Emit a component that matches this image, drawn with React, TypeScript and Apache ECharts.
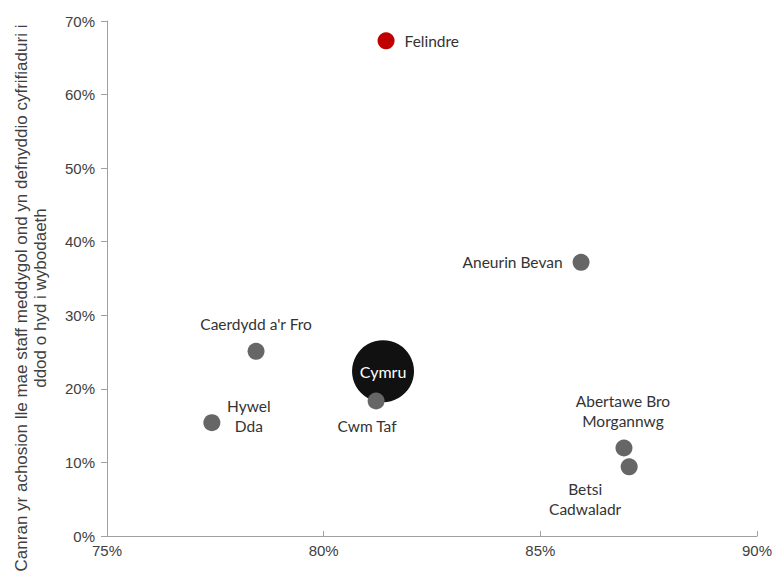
import React, { useEffect, useRef } from "react";
import * as echarts from "echarts";

const names = ["Felindre", "Aneurin Bevan", "Caerdydd a'r Fro", "Cymru", "Cwm Taf", "Hywel Dda", "Abertawe Bro Morgannwg", "Betsi Cadwaladr"];
const labelTexts = ["Felindre", "Aneurin Bevan", "Caerdydd a'r Fro", "Cymru", "Cwm Taf", "Hywel\nDda", "Abertawe Bro\nMorgannwg", "Betsi\nCadwaladr"];
const xValues = [81.44, 85.94, 78.44, 81.37, 81.21, 77.42, 86.93, 87.05];
const yValues = [67.3, 37.2, 25.1, 22.4, 18.35, 15.4, 11.96, 9.4];
const xTicks = [75, 80, 85, 90];
const yTicks = [0, 10, 20, 30, 40, 50, 60, 70];
const yTitle1 = "Canran yr achosion lle mae staff meddygol ond yn defnyddio cyfrifiaduri i";
const yTitle2 = "ddod o hyd i wybodaeth";

const labelFont = "Lato, 'Open Sans', sans-serif";

const pointStyles: Record<string, any> = {
  Felindre: { color: "#c00000", size: 17, label: { position: "right", distance: 10, align: "left" } },
  "Aneurin Bevan": { color: "#666666", size: 17, label: { position: "left", distance: 10, align: "right" } },
  "Caerdydd a'r Fro": { color: "#666666", size: 17, label: { position: "top", distance: 9 } },
  Cymru: { color: "#111111", size: 62, label: { position: "inside", color: "#ffffff", fontSize: 16 } },
  "Cwm Taf": { color: "#666666", size: 17, label: { position: "inside", offset: [-9, 25] } },
  "Hywel Dda": { color: "#666666", size: 17, label: { position: "inside", offset: [37, -7] } },
  "Abertawe Bro Morgannwg": { color: "#666666", size: 17, label: { position: "inside", offset: [-1, -37] } },
  "Betsi Cadwaladr": { color: "#666666", size: 17, label: { position: "inside", offset: [-44, 32] } },
};

export default function App() {
  const ref = useRef<HTMLDivElement>(null);
  useEffect(() => {
    if (!ref.current) return;
    const chart = echarts.init(ref.current, undefined, { renderer: "svg" });
    const data = names.map((n, i) => {
      const s = pointStyles[n];
      return {
        name: n,
        value: [xValues[i], yValues[i]],
        symbolSize: s.size,
        itemStyle: { color: s.color, opacity: 1 },
        label: {
          show: true,
          formatter: labelTexts[i],
          color: "#333333",
          fontSize: 15.5,
          fontFamily: labelFont,
          lineHeight: 20,
          align: "center",
          ...s.label,
        },
      };
    });
    const titleStyle = {
      fontSize: 17,
      fontFamily: "'Liberation Sans', Arial, sans-serif",
      fill: "#404040",
      align: "center",
      verticalAlign: "middle",
    };
    chart.setOption({
      animation: false,
      backgroundColor: "#ffffff",
      grid: { left: 107, right: 20, top: 21, bottom: 39, containLabel: false },
      xAxis: {
        type: "value",
        min: xTicks[0],
        max: xTicks[xTicks.length - 1],
        interval: 5,
        axisLine: { show: true, lineStyle: { color: "#a0a0a0", width: 1 } },
        axisTick: { show: true, inside: true, length: 5, lineStyle: { color: "#a0a0a0" } },
        splitLine: { show: false },
        axisLabel: {
          formatter: (v: number) => v + "%",
          color: "#404040",
          fontSize: 15,
          fontFamily: "'Liberation Sans', Arial, sans-serif",
          margin: 7,
        },
      },
      yAxis: {
        type: "value",
        min: yTicks[0],
        max: yTicks[yTicks.length - 1],
        interval: 10,
        axisLine: { show: true, lineStyle: { color: "#a0a0a0", width: 1 } },
        axisTick: { show: true, inside: false, length: 6, lineStyle: { color: "#a0a0a0" } },
        splitLine: { show: false },
        axisLabel: {
          formatter: (v: number) => v + "%",
          color: "#404040",
          fontSize: 15,
          fontFamily: "'Liberation Sans', Arial, sans-serif",
          margin: 12,
        },
      },
      graphic: [
        {
          type: "text",
          x: 21,
          y: 298,
          rotation: Math.PI / 2,
          style: { text: yTitle1, ...titleStyle },
        },
        {
          type: "text",
          x: 40,
          y: 298,
          rotation: Math.PI / 2,
          style: { text: yTitle2, ...titleStyle },
        },
      ],
      series: [
        {
          type: "scatter",
          data,
          symbol: "circle",
          emphasis: { disabled: true },
        },
      ],
    });
    return () => chart.dispose();
  }, []);
  return <div ref={ref} style={{ width: 777, height: 575, position: "absolute", left: 0, top: 0 }} />;
}
